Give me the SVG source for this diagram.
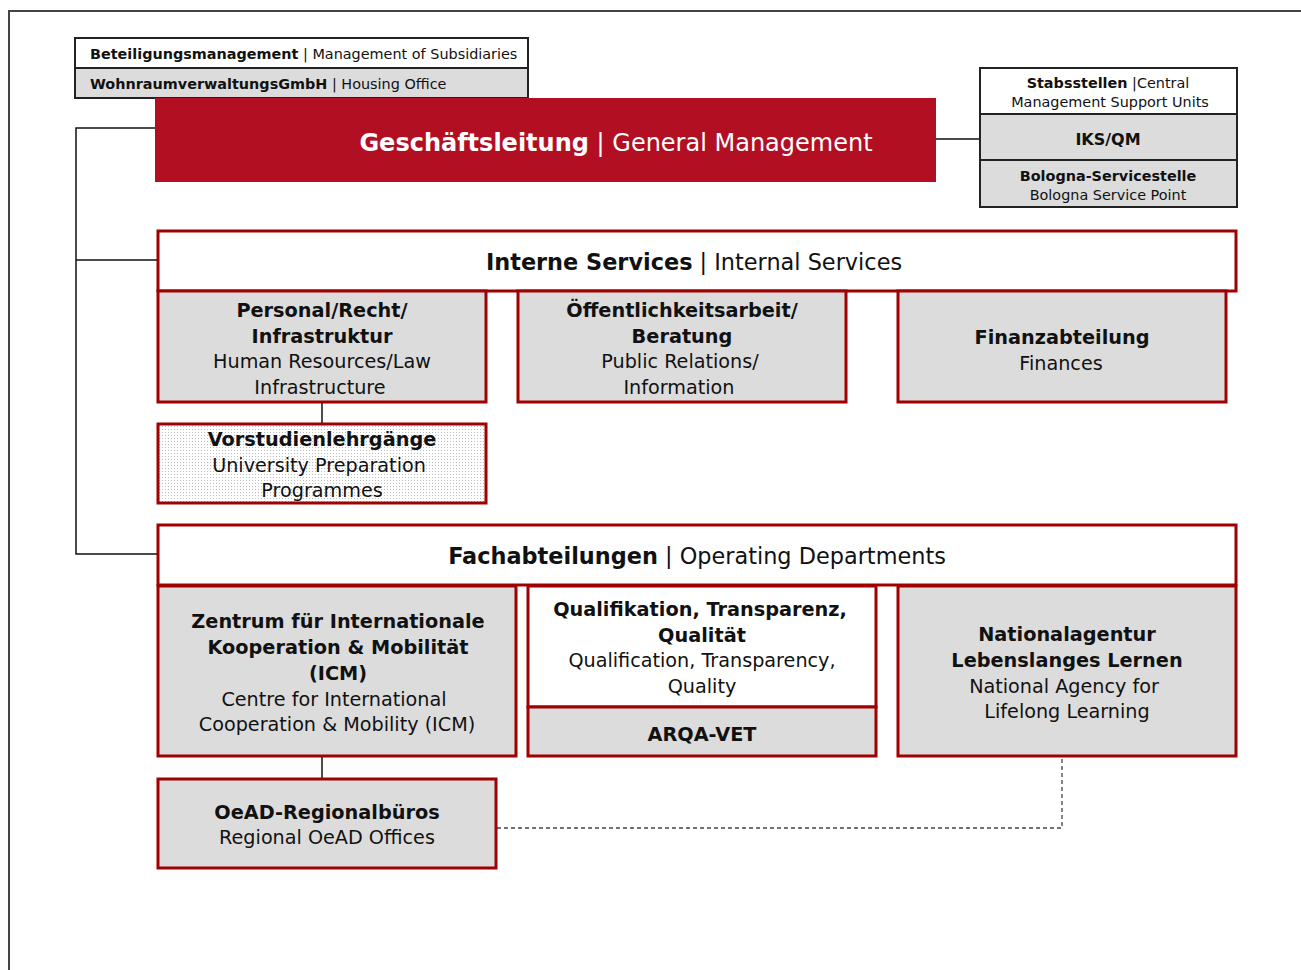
<svg xmlns="http://www.w3.org/2000/svg" width="1301" height="970" viewBox="0 0 1301 970">
<style>
text{font-family:"DejaVu Sans","Liberation Sans",sans-serif;fill:#111}
.b{font-weight:bold}
.s{font-size:14.4px}
.m{font-size:19.2px}
.mb{font-size:19.3px;font-weight:bold}
.h{font-size:22.4px}
.c{text-anchor:middle}
.blk{stroke:#222;stroke-width:2}
.red{stroke:#a00000;stroke-width:3}
.g{fill:#dcdcdc}
.w{fill:#fff}
.ln{stroke:#111;stroke-width:1.5;fill:none}
</style>
<defs>
<pattern id="dots" width="3" height="3" patternUnits="userSpaceOnUse">
<rect width="3" height="3" fill="#fff"/>
<rect width="1" height="1" fill="#bdbdbd"/>
</pattern>
</defs>
<rect width="1301" height="970" fill="#fff"/>
<path d="M9,970 V11 H1301" fill="none" stroke="#444" stroke-width="2"/>

<g id="connectors">
<path class="ln" d="M155,128 H76 V554 H157 M76,260 H157"/>
<path class="ln" d="M936,139 H980"/>
<path class="ln" d="M322,403 V423"/>
<path class="ln" d="M322,757 V778"/>
<path d="M497,828 H1062 V758" fill="none" stroke="#444" stroke-width="1.3" stroke-dasharray="4 3"/>
</g>

<g id="beteiligung">
<rect x="75" y="38" width="453" height="30" class="w blk"/>
<rect x="75" y="68" width="453" height="30" class="g blk"/>
<text x="90" y="59" class="s"><tspan class="b">Beteiligungsmanagement</tspan> | Management of Subsidiaries</text>
<text x="90" y="89" class="s"><tspan class="b">WohnraumverwaltungsGmbH</tspan> | Housing Office</text>
</g>

<g id="geschaeftsleitung">
<rect x="155" y="98" width="781" height="84" fill="#b30f23"/>
<text x="616" y="151" class="c" style="font-size:24px;fill:#fff"><tspan class="b" style="fill:#fff">Geschäftsleitung</tspan> | General Management</text>
</g>

<g id="stabsstellen">
<rect x="980" y="68" width="257" height="46" class="w blk"/>
<rect x="980" y="114" width="257" height="46" class="g blk"/>
<rect x="980" y="160" width="257" height="47" class="g blk"/>
<text x="1108" y="88" class="s c"><tspan class="b">Stabsstellen</tspan> |Central</text>
<text x="1110" y="107" class="s c">Management Support Units</text>
<text x="1108" y="145" class="c b" style="font-size:16px">IKS/QM</text>
<text x="1108" y="181" class="s c b">Bologna-Servicestelle</text>
<text x="1108" y="200" class="s c">Bologna Service Point</text>
</g>

<g id="interne-services">
<rect x="158" y="231" width="1078" height="60" class="w red"/>
<text x="694" y="270" class="h c"><tspan class="b">Interne Services</tspan> | Internal Services</text>
</g>

<g id="personal">
<rect x="158" y="291" width="328" height="111" class="g red"/>
<text x="322" y="317" class="mb c">Personal/Recht/</text>
<text x="322" y="343" class="mb c">Infrastruktur</text>
<text x="322" y="368" class="m c">Human Resources/Law</text>
<text x="320" y="394" class="m c">Infrastructure</text>
</g>

<g id="oeffentlichkeit">
<rect x="518" y="291" width="328" height="111" class="g red"/>
<text x="682" y="317" class="mb c">Öffentlichkeitsarbeit/</text>
<text x="682" y="343" class="mb c">Beratung</text>
<text x="680" y="368" class="m c">Public Relations/</text>
<text x="679" y="394" class="m c">Information</text>
</g>

<g id="finanz">
<rect x="898" y="291" width="328" height="111" class="g red"/>
<text x="1062" y="344" class="mb c">Finanzabteilung</text>
<text x="1061" y="370" class="m c">Finances</text>
</g>

<g id="vorstudien">
<rect x="158" y="424" width="328" height="79" fill="url(#dots)" class="red"/>
<text x="322" y="446" class="mb c">Vorstudienlehrgänge</text>
<text x="319" y="472" class="m c">University Preparation</text>
<text x="322" y="497" class="m c">Programmes</text>
</g>

<g id="fachabteilungen">
<rect x="158" y="525" width="1078" height="60" class="w red"/>
<text x="697" y="564" class="h c"><tspan class="b">Fachabteilungen</tspan> | Operating Departments</text>
</g>

<g id="icm">
<rect x="158" y="586" width="358" height="170" class="g red"/>
<text x="338" y="628" class="mb c">Zentrum für Internationale</text>
<text x="338" y="654" class="mb c">Kooperation &amp; Mobilität</text>
<text x="338" y="680" class="mb c">(ICM)</text>
<text x="334" y="706" class="m c">Centre for International</text>
<text x="337" y="731" class="m c">Cooperation &amp; Mobility (ICM)</text>
</g>

<g id="qualifikation">
<rect x="528" y="586" width="348" height="121" class="w red"/>
<text x="700" y="616" class="mb c">Qualifikation, Transparenz,</text>
<text x="702" y="642" class="mb c">Qualität</text>
<text x="702" y="667" class="m c">Qualification, Transparency,</text>
<text x="702" y="693" class="m c">Quality</text>
</g>

<g id="arqa-vet">
<rect x="528" y="707" width="348" height="49" class="g red"/>
<text x="702" y="741" class="mb c">ARQA-VET</text>
</g>

<g id="nationalagentur">
<rect x="898" y="586" width="338" height="170" class="g red"/>
<text x="1067" y="641" class="mb c">Nationalagentur</text>
<text x="1067" y="667" class="mb c">Lebenslanges Lernen</text>
<text x="1064" y="693" class="m c">National Agency for</text>
<text x="1067" y="718" class="m c">Lifelong Learning</text>
</g>

<g id="oead">
<rect x="158" y="779" width="338" height="89" class="g red"/>
<text x="327" y="819" class="mb c">OeAD-Regionalbüros</text>
<text x="327" y="844" class="m c">Regional OeAD Offices</text>
</g>
</svg>
